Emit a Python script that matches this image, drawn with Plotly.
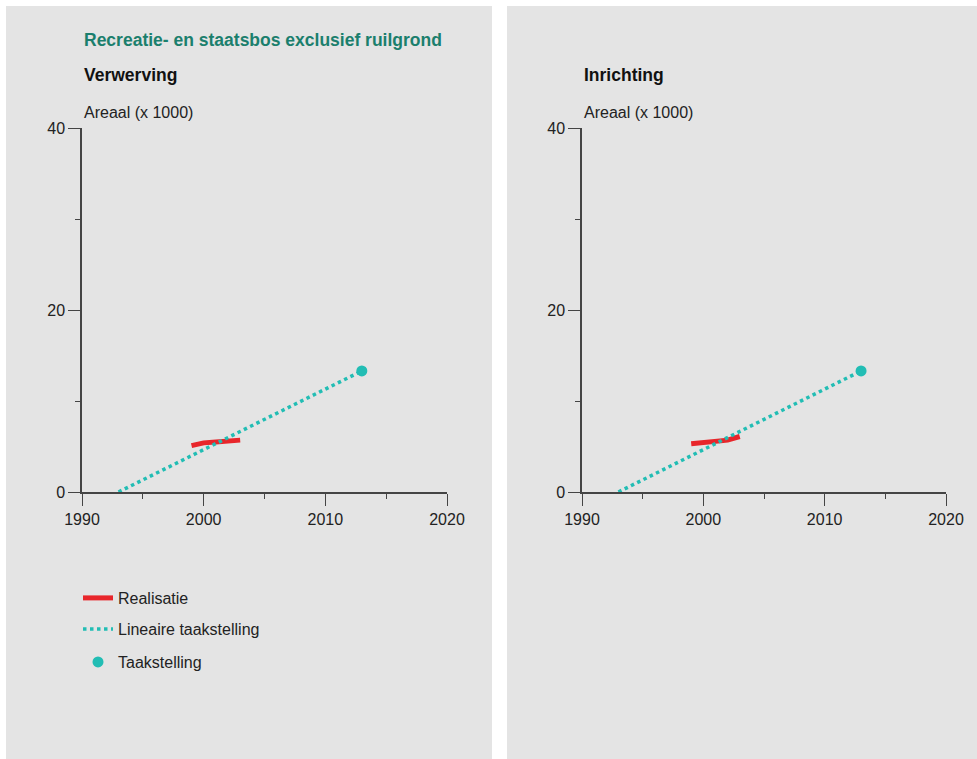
import plotly.graph_objects as go

W, H = 977, 759

# ---- data ----
real_years = [1999, 2000, 2001, 2002, 2003]
real_verwerving = [5.1, 5.4, 5.5, 5.6, 5.7]
real_inrichting = [5.3, 5.4, 5.5, 5.7, 6.1]
lin_years = [1993, 2013]
lin_values = [0.0, 13.3]
taak_year = [2013]
taak_value = [13.3]
x_ticks = [1990, 2000, 2010, 2020]
y_ticks = [0, 20, 40]

title_main = "Recreatie- en staatsbos exclusief ruilgrond"
panel_titles = ["Verwerving", "Inrichting"]
y_title = "Areaal (x 1000)"

FONT = "Liberation Sans, Arial, sans-serif"
RED = "#e8262b"
TEAL = "#22bdb4"
TITLE_COL = "#1b7f6d"
AXIS_COL = "#444444"

def px_x(p):
    return p / W

def px_y(p):
    return 1 - p / H

fig = go.Figure()

panels = [
    (real_verwerving, "x", "y", True),
    (real_inrichting, "x2", "y2", False),
]
for vals, xa, ya, show in panels:
    fig.add_trace(go.Scatter(x=real_years, y=vals, mode="lines", name="Realisatie",
                             line=dict(color=RED, width=5), xaxis=xa, yaxis=ya,
                             showlegend=show, legend="legend"))
    fig.add_trace(go.Scatter(x=lin_years, y=lin_values, mode="lines", name="Lineaire taakstelling",
                             line=dict(color=TEAL, width=3.5, dash="dot"), xaxis=xa, yaxis=ya,
                             showlegend=show, legend="legend2"))
    fig.add_trace(go.Scatter(x=taak_year, y=taak_value, mode="markers", name="Taakstelling",
                             marker=dict(color=TEAL, size=11), xaxis=xa, yaxis=ya,
                             showlegend=show, legend="legend3"))

xdoms = [(82, 447), (582, 946)]
ydom = [px_y(492), px_y(128)]

axis_common = dict(showline=True, linecolor=AXIS_COL, linewidth=1.5, ticks="outside",
                   tickcolor=AXIS_COL, tickwidth=1.2, ticklen=12, showgrid=False, zeroline=False,
                   automargin=False,
                   tickfont=dict(family=FONT, size=16, color="#222222"))

for i, (x0, x1) in enumerate(xdoms):
    sfx = "" if i == 0 else str(i + 1)
    fig.update_layout(**{
        "xaxis" + sfx: dict(domain=[px_x(x0), px_x(x1)], range=[1990, 2020], tickvals=x_ticks,
                            anchor="y" + sfx,
                            minor=dict(dtick=5, tick0=1990, ticks="outside", ticklen=5,
                                       tickcolor=AXIS_COL, tickwidth=1.2),
                            **axis_common),
        "yaxis" + sfx: dict(domain=ydom, range=[0, 40], tickvals=y_ticks, anchor="x" + sfx,
                            minor=dict(dtick=10, tick0=0, ticks="outside", ticklen=5,
                                       tickcolor=AXIS_COL, tickwidth=1.2),
                            **axis_common),
    })

shapes = [
    dict(type="rect", xref="paper", yref="paper", x0=px_x(6), x1=px_x(492), y0=0, y1=px_y(6),
         fillcolor="#e4e4e4", line=dict(width=0), layer="below"),
    dict(type="rect", xref="paper", yref="paper", x0=px_x(507), x1=1, y0=0, y1=px_y(6),
         fillcolor="#e4e4e4", line=dict(width=0), layer="below"),
]

annotations = [
    dict(text=title_main, x=px_x(82), y=px_y(40), xref="paper", yref="paper",
         xanchor="left", yanchor="middle", showarrow=False,
         font=dict(family=FONT, size=17.5, color=TITLE_COL, weight="bold")),
]
for i, t in enumerate(panel_titles):
    xl = xdoms[i][0]
    annotations.append(dict(text=t, x=px_x(xl), y=px_y(75), xref="paper", yref="paper",
                            xanchor="left", yanchor="middle", showarrow=False,
                            font=dict(family=FONT, size=17.5, color="#111111", weight="bold")))
    annotations.append(dict(text=y_title, x=px_x(xl), y=px_y(113), xref="paper", yref="paper",
                            xanchor="left", yanchor="middle", showarrow=False,
                            font=dict(family=FONT, size=16, color="#222222")))

leg_common = dict(xanchor="left", yanchor="middle", bgcolor="rgba(0,0,0,0)",
                  font=dict(family=FONT, size=16, color="#222222"), itemwidth=30)

fig.update_layout(
    width=W, height=H,
    margin=dict(l=0, r=0, t=0, b=0, pad=0, autoexpand=False),
    paper_bgcolor="white",
    plot_bgcolor="white",
    shapes=shapes,
    annotations=annotations,
    showlegend=True,
    legend=dict(x=px_x(78), y=px_y(598), **leg_common),
    legend2=dict(x=px_x(78), y=px_y(629), **leg_common),
    legend3=dict(x=px_x(78), y=px_y(662), **leg_common),
)

fig.write_html("out.html",
               config={"displayModeBar": False},
               post_script="document.body.style.margin='0';document.body.style.padding='0';"
                           "document.body.style.overflow='hidden';")
